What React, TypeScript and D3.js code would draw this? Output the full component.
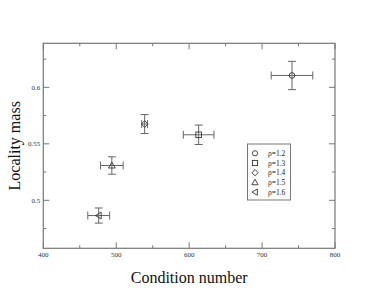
import * as d3 from "d3";
import { useRef, useEffect } from "react";

// one point per rho value: condition number, locality mass, and errors
const labels = ["ρ=1.2", "ρ=1.3", "ρ=1.4", "ρ=1.5", "ρ=1.6"];
const symbols = ["circle", "square", "diamond", "triangle", "left"];
const condNumber = [741, 613, 539, 494, 476];
const condErr = [28.5, 21, 4, 15.5, 15];
const locMass = [0.6105, 0.558, 0.5675, 0.5308, 0.4865];
const locErr = [0.0125, 0.0086, 0.0084, 0.0077, 0.0067];

const xTicks = [400, 500, 600, 700, 800];
const yTicks = [0.5, 0.55, 0.6];

const W = 388;
const H = 300;
const margin = { top: 43.3, right: 53, bottom: 51.7, left: 43.3 };

const drawSymbol = (g, type, x, y, s) => {
    const stroke = "#333";
    if (type === "circle") {
        g.append("circle").attr("cx", x).attr("cy", y).attr("r", s)
            .attr("fill", "none").attr("stroke", stroke).attr("stroke-width", 0.9);
    } else if (type === "square") {
        g.append("rect").attr("x", x - s).attr("y", y - s).attr("width", 2 * s).attr("height", 2 * s)
            .attr("fill", "none").attr("stroke", stroke).attr("stroke-width", 0.9);
    } else {
        let pts;
        if (type === "diamond") pts = [[x, y - s * 1.2], [x + s * 1.2, y], [x, y + s * 1.2], [x - s * 1.2, y]];
        else if (type === "triangle") pts = [[x, y - s * 1.2], [x + s * 1.2, y + s * 0.9], [x - s * 1.2, y + s * 0.9]];
        else pts = [[x - s * 1.2, y], [x + s * 0.9, y - s * 1.2], [x + s * 0.9, y + s * 1.2]];
        g.append("polygon").attr("points", pts.map(p => p.join(",")).join(" "))
            .attr("fill", "none").attr("stroke", stroke).attr("stroke-width", 0.9);
    }
};

const App = () => {
    const ref = useRef(null);

    useEffect(() => {
        const svg = d3.select(ref.current);
        svg.selectAll("*").remove();

        const x = d3.scaleLinear().domain([400, 800]).range([margin.left, W - margin.right]);
        const y = d3.scaleLinear().domain([0.4575, 0.639]).range([H - margin.bottom, margin.top]);
        const [x0, x1] = x.range();
        const [y0, y1] = y.range();
        const frame = "#777";

        // frame
        svg.append("rect")
            .attr("x", x0).attr("y", y1).attr("width", x1 - x0).attr("height", y0 - y1)
            .attr("fill", "none").attr("stroke", frame).attr("stroke-width", 1.2);

        // ticks, all pointing inward
        const xMinor = d3.range(450, 800, 100);
        const yMinor = [0.475, 0.525, 0.575, 0.625];
        const tg = svg.append("g").attr("stroke", frame).attr("stroke-width", 1);
        xTicks.forEach(t => {
            tg.append("line").attr("x1", x(t)).attr("x2", x(t)).attr("y1", y0).attr("y2", y0 - 6);
            tg.append("line").attr("x1", x(t)).attr("x2", x(t)).attr("y1", y1).attr("y2", y1 + 6);
        });
        xMinor.forEach(t => {
            tg.append("line").attr("x1", x(t)).attr("x2", x(t)).attr("y1", y0).attr("y2", y0 - 3);
            tg.append("line").attr("x1", x(t)).attr("x2", x(t)).attr("y1", y1).attr("y2", y1 + 3);
        });
        yTicks.forEach(t => {
            tg.append("line").attr("y1", y(t)).attr("y2", y(t)).attr("x1", x0).attr("x2", x0 + 6);
            tg.append("line").attr("y1", y(t)).attr("y2", y(t)).attr("x1", x1).attr("x2", x1 - 6);
        });
        yMinor.forEach(t => {
            tg.append("line").attr("y1", y(t)).attr("y2", y(t)).attr("x1", x0).attr("x2", x0 + 3);
            tg.append("line").attr("y1", y(t)).attr("y2", y(t)).attr("x1", x1).attr("x2", x1 - 3);
        });

        const font = "'Liberation Serif', 'DejaVu Serif', serif";
        svg.selectAll("text.xt").data(xTicks).enter().append("text")
            .attr("x", d => x(d)).attr("y", y0 + 9)
            .attr("text-anchor", "middle").attr("font-family", font).attr("font-size", 7)
            .attr("fill", "#333").text(d => d);
        svg.selectAll("text.yt").data(yTicks).enter().append("text")
            .attr("x", x0 - 3).attr("y", d => y(d) + 2.5)
            .attr("text-anchor", "end").attr("font-family", font).attr("font-size", 7)
            .attr("fill", "#333").text(d => d);

        svg.append("text").attr("x", (x0 + x1) / 2).attr("y", 283)
            .attr("text-anchor", "middle").attr("font-family", font).attr("font-size", 16)
            .attr("fill", "#111").text("Condition number");
        svg.append("text").attr("transform", `translate(20, ${(y0 + y1) / 2}) rotate(-90)`)
            .attr("text-anchor", "middle").attr("font-family", font).attr("font-size", 16)
            .attr("fill", "#111").text("Locality mass");

        // error bars and markers
        const eg = svg.append("g").attr("stroke", "#666").attr("stroke-width", 1);
        condNumber.forEach((c, i) => {
            const px = x(c), py = y(locMass[i]);
            const xl = x(c - condErr[i]), xr = x(c + condErr[i]);
            const yt = y(locMass[i] + locErr[i]), yb = y(locMass[i] - locErr[i]);
            eg.append("line").attr("x1", xl).attr("x2", xr).attr("y1", py).attr("y2", py);
            eg.append("line").attr("x1", xl).attr("x2", xl).attr("y1", py - 4).attr("y2", py + 4);
            eg.append("line").attr("x1", xr).attr("x2", xr).attr("y1", py - 4).attr("y2", py + 4);
            eg.append("line").attr("x1", px).attr("x2", px).attr("y1", yt).attr("y2", yb);
            eg.append("line").attr("x1", px - 4).attr("x2", px + 4).attr("y1", yt).attr("y2", yt);
            eg.append("line").attr("x1", px - 4).attr("x2", px + 4).attr("y1", yb).attr("y2", yb);
            drawSymbol(svg, symbols[i], px, py, 2.8);
        });

        // legend
        const lg = svg.append("g");
        lg.append("rect").attr("x", 247.5).attr("y", 144).attr("width", 43).attr("height", 56)
            .attr("fill", "white").attr("stroke", "#777").attr("stroke-width", 1);
        labels.forEach((l, i) => {
            const ly = 153.3 + i * 9.7;
            drawSymbol(lg, symbols[i], 255, ly, 2.6);
            lg.append("text").attr("x", 268).attr("y", ly + 2.5)
                .attr("font-family", font).attr("font-size", 7.5).attr("fill", "#222").text(l);
        });
    }, []);

    return (
        <svg ref={ref} width={W} height={H}
            style={{ position: "absolute", left: 0, top: 0, background: "white" }} />
    );
};

export default App;
